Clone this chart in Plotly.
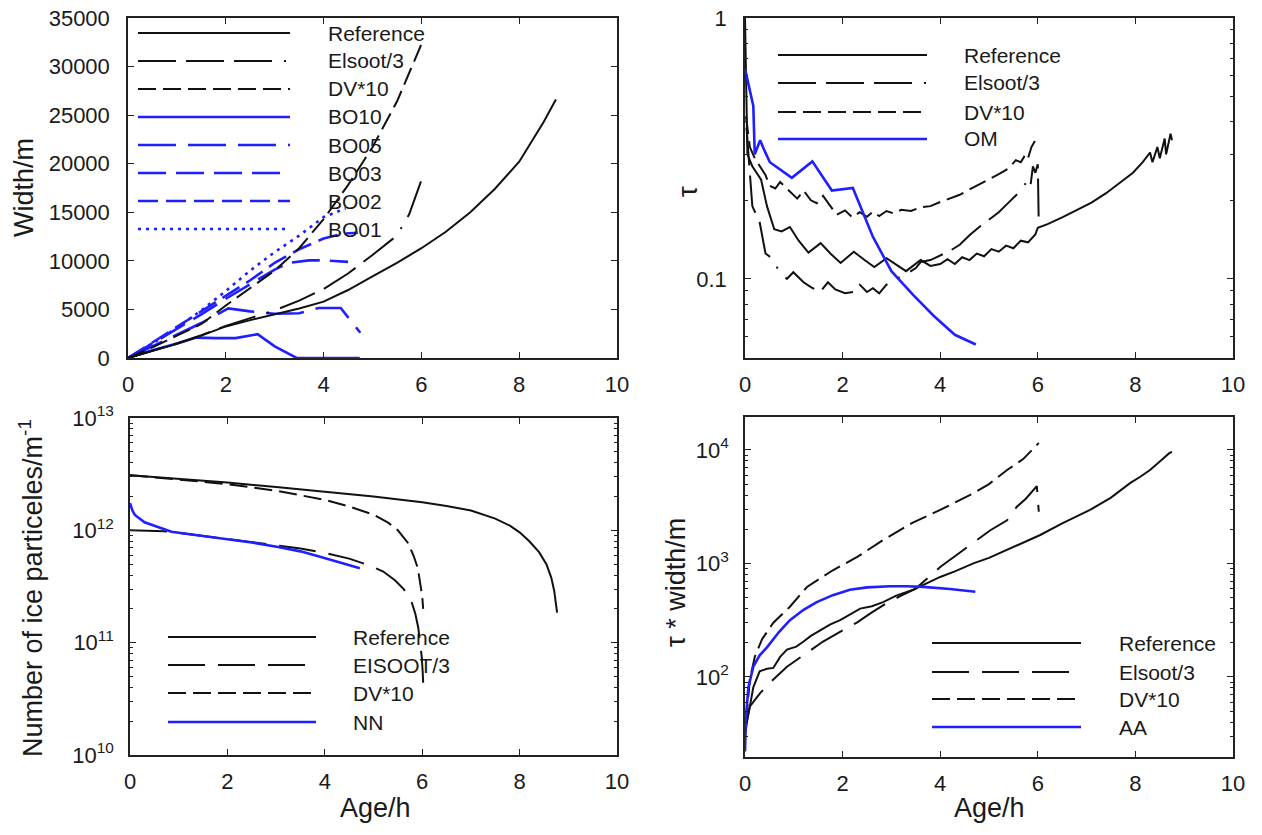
import math
import plotly.graph_objects as go

PAGE_W, PAGE_H = 1262, 835
OFF = 8  # browser body margin
W, H = PAGE_W - OFF, PAGE_H - OFF
BLACK = "#111111"
BLUE = "#1f1fff"
FONT = "Liberation Sans, Arial, sans-serif"

# ---------------- Panel A: Width/m vs Age/h ----------------
a_ref_age = [0, 0.5, 1, 1.5, 2, 2.5, 3, 3.5, 4, 4.5, 5, 5.5, 6, 6.5, 7, 7.5, 8, 8.5, 8.75]
a_ref_val = [0, 700, 1450, 2300, 3250, 3900, 4500, 5100, 5800, 7000, 8400, 9800, 11300, 13000, 15000, 17400, 20200, 24300, 26600]
a_els_age = [0, 0.5, 1, 1.5, 2, 2.5, 3, 3.5, 4, 4.5, 5, 5.5, 5.75, 6.0]
a_els_val = [0, 750, 1500, 2350, 3300, 4100, 4900, 5900, 7100, 8700, 10600, 12600, 14800, 18300]
a_dv_age = [0, 0.5, 1, 1.5, 2, 2.5, 3, 3.5, 4, 4.5, 5, 5.5, 6.0]
a_dv_val = [0, 1100, 2300, 3500, 5400, 7200, 9000, 11300, 14300, 17800, 21700, 26400, 32300]
a_bo10_age = [0, 0.5, 1, 1.4, 1.8, 2.2, 2.65, 3.0, 3.45, 4.0, 4.74]
a_bo10_val = [0, 800, 1500, 2100, 2050, 2050, 2450, 1200, 0, 0, 0]
a_bo05_age = [0, 0.5, 1, 1.5, 2.05, 2.5, 3.0, 3.5, 3.9, 4.35, 4.75]
a_bo05_val = [0, 1200, 2400, 3600, 5100, 4800, 4550, 4600, 5150, 5150, 2600]
a_bo03_age = [0, 0.5, 1, 1.5, 2, 2.5, 3, 3.3, 3.7, 4.0, 4.5]
a_bo03_val = [0, 1500, 3000, 4500, 6100, 7600, 9100, 9800, 10050, 10050, 9900]
a_bo02_age = [0, 0.5, 1, 1.5, 2, 2.5, 3, 3.5, 4, 4.4, 4.7]
a_bo02_val = [0, 1600, 3200, 4800, 6400, 8000, 9800, 11200, 12300, 12800, 12900]
a_bo01_age = [0, 0.5, 1, 1.5, 2, 2.5, 3, 3.5, 4, 4.45]
a_bo01_val = [0, 1500, 3100, 4900, 6900, 9000, 10900, 12600, 14500, 15400]

# ---------------- Panel B: tau vs Age/h ----------------
b_ref_age = [0, 0.02, 0.05, 0.15, 0.33, 0.45, 0.6, 0.75, 0.92, 1.1, 1.3, 1.55, 1.75, 1.96, 2.23, 2.45, 2.65,
             2.9, 3.1, 3.3, 3.6, 3.8, 4.0, 4.15, 4.3, 4.45, 4.6, 4.75, 4.9, 5.05, 5.2, 5.35, 5.5, 5.65, 5.8,
             5.95, 6.0, 6.2, 6.5, 6.8, 7.1, 7.4, 7.7, 7.95, 8.15, 8.3, 8.35, 8.45, 8.5, 8.6, 8.63, 8.72, 8.75]
b_ref_val = [1.0, 0.55, 0.30, 0.27, 0.24, 0.19, 0.155, 0.152, 0.158, 0.14, 0.126, 0.137, 0.125, 0.115, 0.127,
             0.118, 0.111, 0.12, 0.113, 0.107, 0.118, 0.112, 0.114, 0.119, 0.114, 0.121, 0.118, 0.125, 0.122,
             0.13, 0.127, 0.134, 0.131, 0.14, 0.138, 0.148, 0.157, 0.162, 0.172, 0.183, 0.196, 0.213, 0.234,
             0.255, 0.28, 0.305, 0.28, 0.32, 0.29, 0.345, 0.30, 0.36, 0.34]
b_els_age = [0.03, 0.08, 0.15, 0.3, 0.42, 0.55, 0.7, 0.86, 0.99, 1.2, 1.35, 1.54, 1.7, 1.85, 2.05, 2.22, 2.35,
             2.5, 2.62, 2.75, 2.9, 3.1, 3.3, 3.5, 3.6, 3.8, 4.0, 4.2, 4.4, 4.6, 4.8, 5.0, 5.2, 5.4, 5.6, 5.7,
             5.8, 5.85, 5.9, 5.95, 6.0, 6.02]
b_els_val = [0.38, 0.28, 0.19, 0.165, 0.125, 0.12, 0.107, 0.1, 0.106, 0.097, 0.093, 0.089, 0.097, 0.091,
             0.088, 0.089, 0.095, 0.089, 0.092, 0.088, 0.095, 0.1, 0.104, 0.11, 0.116, 0.118, 0.123, 0.128,
             0.135, 0.147, 0.158, 0.168, 0.18, 0.196, 0.213, 0.225, 0.24, 0.228, 0.27, 0.255, 0.275, 0.16]
b_dv_age = [0.02, 0.1, 0.2, 0.3, 0.42, 0.5, 0.62, 0.72, 0.85, 1.07, 1.2, 1.35, 1.47, 1.6, 1.75, 1.88, 2.05,
            2.2, 2.35, 2.5, 2.62, 2.75, 2.9, 3.05, 3.2, 3.4, 3.6, 3.8, 4.0, 4.2, 4.4, 4.6, 4.8, 5.0, 5.2, 5.4,
            5.55, 5.65, 5.75, 5.8, 5.87, 5.95, 6.02]
b_dv_val = [0.42, 0.32, 0.29, 0.27, 0.25, 0.228, 0.222, 0.235, 0.222, 0.203, 0.218, 0.2, 0.195, 0.208, 0.19,
            0.176, 0.183, 0.172, 0.18, 0.173, 0.181, 0.174, 0.182, 0.178, 0.184, 0.182, 0.188, 0.19, 0.197,
            0.203, 0.21, 0.22, 0.23, 0.24, 0.252, 0.265, 0.285, 0.28, 0.3, 0.29, 0.32, 0.34, 0.355]
b_om_age = [0, 0.17, 0.2, 0.31, 0.4, 0.51, 0.96, 1.38, 1.78, 2.21, 2.62, 3.0, 3.44, 3.87, 4.3, 4.73]
b_om_val = [0.64, 0.46, 0.30, 0.34, 0.31, 0.28, 0.244, 0.282, 0.218, 0.223, 0.145, 0.107, 0.087, 0.072, 0.061, 0.056]

# ---------------- Panel C: number of ice particles ----------------
c_ref_age = [0, 1, 2, 3, 4, 5, 6, 6.5, 7, 7.5, 7.8, 8.0, 8.2, 8.4, 8.55, 8.65, 8.71, 8.75, 8.77]
c_ref_val = [3.1e12, 2.88e12, 2.66e12, 2.43e12, 2.2e12, 2.0e12, 1.78e12, 1.65e12, 1.5e12, 1.27e12, 1.1e12,
             9.6e11, 8.0e11, 6.4e11, 5.0e11, 3.8e11, 2.9e11, 2.2e11, 1.85e11]
c_els_age = [0, 0.7, 1, 2, 3, 3.5, 4, 4.5, 4.9, 5.2, 5.44, 5.62, 5.77, 5.86, 5.92, 5.96, 5.99, 6.01, 6.02]
c_els_val = [1.0e12, 9.8e11, 9.5e11, 8.4e11, 7.4e11, 6.9e11, 6.3e11, 5.6e11, 4.9e11, 4.3e11, 3.6e11, 3.0e11,
             2.4e11, 1.8e11, 1.35e11, 1.0e11, 7.5e10, 5.5e10, 4.4e10]
c_dv_age = [0, 1, 2, 3, 3.5, 4, 4.5, 5, 5.3, 5.5, 5.7, 5.82, 5.91, 5.96, 6.0, 6.02]
c_dv_val = [3.1e12, 2.85e12, 2.58e12, 2.25e12, 2.05e12, 1.87e12, 1.63e12, 1.38e12, 1.17e12, 1.0e12, 7.8e11,
            6.0e11, 4.6e11, 3.5e11, 2.6e11, 2.0e11]
c_nn_age = [0, 0.05, 0.1, 0.3, 0.5, 0.85, 1.5, 2, 2.5, 3.04, 3.5, 3.92, 4.3, 4.72]
c_nn_val = [1.75e12, 1.5e12, 1.37e12, 1.18e12, 1.1e12, 9.7e11, 8.9e11, 8.3e11, 7.8e11, 7.1e11, 6.5e11,
            5.8e11, 5.2e11, 4.6e11]

# ---------------- Panel D: tau * width ----------------
d_ref_age = [0.0, 0.04, 0.1, 0.17, 0.3, 0.45, 0.58, 0.72, 0.86, 1.05, 1.2, 1.35, 1.54, 1.75, 1.95, 2.15, 2.36,
             2.6, 2.83, 3.1, 3.45, 3.7, 4.0, 4.3, 4.68, 5.0, 5.37, 5.7, 6.05, 6.5, 7.07, 7.5, 7.89, 8.1, 8.3,
             8.5, 8.7, 8.75]
d_ref_val = [30, 40, 55, 81, 112, 118, 120, 150, 174, 185, 205, 230, 257, 290, 316, 355, 400, 420, 456, 520,
             587, 660, 760, 850, 1000, 1120, 1320, 1530, 1780, 2250, 2960, 3800, 5100, 5800, 6650, 7900, 9400,
             9600]
d_els_age = [0.03, 0.1, 0.31, 0.51, 0.86, 1.1, 1.33, 1.6, 2.0, 2.3, 2.6, 2.9, 3.2, 3.5, 4.0, 4.3, 4.68, 5.02,
             5.37, 5.57, 5.75, 5.9, 5.98, 6.02]
d_els_val = [40, 55, 72, 89, 123, 145, 170, 205, 257, 303, 370, 447, 520, 600, 930, 1150, 1510, 1950, 2400,
             3160, 3700, 4400, 4800, 2850]
d_dv_age = [0.02, 0.1, 0.2, 0.35, 0.58, 0.92, 1.27, 1.5, 1.8, 2.3, 2.83, 3.45, 4.0, 4.68, 5.0, 5.37, 5.7, 6.02]
d_dv_val = [40, 95, 150, 215, 300, 415, 620, 720, 870, 1140, 1610, 2300, 2960, 4150, 5000, 6650, 8300, 11500]
d_aa_age = [0, 0.02, 0.07, 0.17, 0.3, 0.45, 0.7, 0.92, 1.2, 1.47, 1.8, 2.15, 2.5, 2.97, 3.3, 3.65, 4.2, 4.72]
d_aa_val = [22, 45, 81, 123, 155, 182, 250, 316, 390, 456, 525, 587, 615, 630, 630, 622, 595, 563]

# ---------------- styles ----------------
DASH_ELS_DOT = "38px,10px,38px,10px,38px,12px,2px,12px"
DASH_ELS = "37px,13px"
DASH_DV = "18px,7px"
DASH_BO05 = "38px,12px"
DASH_BO03 = "28px,10px"
DASH_BO02 = "20px,8px"
DASH_BO01 = "3px,5px"
LW_K = 2.0
LW_B = 2.6

fig = go.Figure()


def add(x, y, color, dash, width, xa, ya):
    fig.add_trace(go.Scatter(x=x, y=y, mode="lines", showlegend=False, hoverinfo="skip",
                             line=dict(color=color, dash=dash, width=width), xaxis=xa, yaxis=ya))


# Panel A
add(a_bo01_age, a_bo01_val, BLUE, DASH_BO01, LW_B, "x", "y")
add(a_bo02_age, a_bo02_val, BLUE, DASH_BO02, LW_B, "x", "y")
add(a_bo03_age, a_bo03_val, BLUE, DASH_BO03, LW_B, "x", "y")
add(a_bo05_age, a_bo05_val, BLUE, DASH_BO05, LW_B, "x", "y")
add(a_bo10_age, a_bo10_val, BLUE, "solid", LW_B, "x", "y")
add(a_ref_age, a_ref_val, BLACK, "solid", LW_K, "x", "y")
add(a_els_age, a_els_val, BLACK, DASH_ELS_DOT, LW_K, "x", "y")
add(a_dv_age, a_dv_val, BLACK, DASH_DV, LW_K, "x", "y")
# Panel B
add(b_ref_age, b_ref_val, BLACK, "solid", LW_K, "x2", "y2")
add(b_els_age, b_els_val, BLACK, DASH_ELS_DOT, LW_K, "x2", "y2")
add(b_dv_age, b_dv_val, BLACK, DASH_DV, LW_K, "x2", "y2")
add(b_om_age, b_om_val, BLUE, "solid", LW_B, "x2", "y2")
# Panel C
add(c_ref_age, c_ref_val, BLACK, "solid", LW_K, "x3", "y3")
add(c_els_age, c_els_val, BLACK, DASH_ELS, LW_K, "x3", "y3")
add(c_dv_age, c_dv_val, BLACK, DASH_DV, LW_K, "x3", "y3")
add(c_nn_age, c_nn_val, BLUE, "solid", LW_B, "x3", "y3")
# Panel D
add(d_ref_age, d_ref_val, BLACK, "solid", LW_K, "x4", "y4")
add(d_els_age, d_els_val, BLACK, DASH_ELS, LW_K, "x4", "y4")
add(d_dv_age, d_dv_val, BLACK, DASH_DV, LW_K, "x4", "y4")
add(d_aa_age, d_aa_val, BLUE, "solid", LW_B, "x4", "y4")


def px_x(v):
    return (v - OFF) / W


def px_y(v):
    return 1 - (v - OFF) / H


TICKFONT = dict(family=FONT, size=22, color="#1a1a1a")
axis_common = dict(showline=True, linecolor="#222222", linewidth=1.5, mirror="ticks", ticks="inside",
                   ticklen=6, tickwidth=1.2, tickcolor="#222222", showgrid=False, zeroline=False,
                   tickfont=TICKFONT, automargin=False, ticklabeloverflow="allow")


def minor_vals(lo_dec, hi_dec):
    vals = []
    for d in range(lo_dec, hi_dec + 1):
        for k in range(2, 10):
            vals.append(k * 10 ** d)
    return vals


x_common = dict(axis_common, range=[0, 10], tickvals=[0, 2, 4, 6, 8, 10], ticklabelstandoff=6)

fig.update_layout(
    width=W, height=H, margin=dict(l=0, r=0, t=0, b=0, autoexpand=False),
    paper_bgcolor="white", plot_bgcolor="white", showlegend=False,
    xaxis=dict(x_common, domain=[px_x(128), px_x(617)], anchor="y"),
    yaxis=dict(axis_common, domain=[px_y(358), px_y(18)], anchor="x", range=[0, 35000],
               tickvals=[0, 5000, 10000, 15000, 20000, 25000, 30000, 35000], tickformat="d",
               ticklabelstandoff=12),
    xaxis2=dict(x_common, domain=[px_x(745), px_x(1233)], anchor="y2"),
    yaxis2=dict(axis_common, domain=[px_y(358), px_y(18)], anchor="x2", type="log",
                range=[math.log10(0.0497), 0.0001], tickvals=[0.1, 1], ticktext=["0.1", "1"],
                ticklabelstandoff=12,
                minor=dict(tickvals=[v for v in minor_vals(-2, -1) if 0.05 <= v < 1], ticks="inside",
                           ticklen=3, tickcolor="#222222")),
    xaxis3=dict(x_common, domain=[px_x(130), px_x(617)], anchor="y3"),
    yaxis3=dict(axis_common, domain=[px_y(755), px_y(418)], anchor="x3", type="log", range=[10, 13],
                tickvals=[1e10, 1e11, 1e12, 1e13],
                ticktext=["10<sup>10</sup>", "10<sup>11</sup>", "10<sup>12</sup>", "10<sup>13</sup>"],
                ticklabelstandoff=10,
                minor=dict(tickvals=minor_vals(10, 12), ticks="inside", ticklen=3, tickcolor="#222222")),
    xaxis4=dict(x_common, domain=[px_x(745), px_x(1233)], anchor="y4"),
    yaxis4=dict(axis_common, domain=[px_y(757), px_y(417)], anchor="x4", type="log",
                range=[math.log10(19.7), math.log10(19500)], tickvals=[100, 1000, 10000],
                ticktext=["10<sup>2</sup>", "10<sup>3</sup>", "10<sup>4</sup>"], ticklabelstandoff=10,
                minor=dict(tickvals=[v for v in minor_vals(1, 4) if 19.7 <= v <= 19500], ticks="inside",
                           ticklen=3, tickcolor="#222222")),
)

# ---------------- hand-drawn legends (line samples + labels) ----------------
LEG_FONT = dict(family=FONT, size=21, color="#1a1a1a")
shapes = []
annotations = []


def legend(x0, x1, xt, rows):
    for (y, label, color, dash, width) in rows:
        shapes.append(dict(type="line", xref="paper", yref="paper", x0=px_x(x0), x1=px_x(x1),
                           y0=px_y(y), y1=px_y(y), line=dict(color=color, dash=dash, width=width)))
        annotations.append(dict(text=label, xref="paper", yref="paper", x=px_x(xt), y=px_y(y),
                                xanchor="left", yanchor="middle", showarrow=False, font=LEG_FONT))


legend(138, 290, 326, [
    (33, "Reference", BLACK, "solid", LW_K),
    (61, "Elsoot/3", BLACK, DASH_ELS_DOT, LW_K),
    (89, "DV*10", BLACK, DASH_DV, LW_K),
    (117, "BO10", BLUE, "solid", LW_B),
    (145, "BO05", BLUE, DASH_BO05, LW_B),
    (173, "BO03", BLUE, DASH_BO03, LW_B),
    (201, "BO02", BLUE, DASH_BO02, LW_B),
    (229, "BO01", BLUE, DASH_BO01, LW_B),
])
legend(778, 927, 962, [
    (55, "Reference", BLACK, "solid", LW_K),
    (83, "Elsoot/3", BLACK, DASH_ELS_DOT, LW_K),
    (112, "DV*10", BLACK, DASH_DV, LW_K),
    (139, "OM", BLUE, "solid", LW_B),
])
legend(168, 316, 351, [
    (637, "Reference", BLACK, "solid", LW_K),
    (665, "EISOOT/3", BLACK, DASH_ELS, LW_K),
    (693, "DV*10", BLACK, DASH_DV, LW_K),
    (722, "NN", BLUE, "solid", LW_B),
])
legend(932, 1081, 1117, [
    (643, "Reference", BLACK, "solid", LW_K),
    (672, "Elsoot/3", BLACK, DASH_ELS, LW_K),
    (699, "DV*10", BLACK, DASH_DV, LW_K),
    (727, "AA", BLUE, "solid", LW_B),
])

# ---------------- axis titles ----------------
TITLE_FONT = dict(family=FONT, size=27, color="#1a1a1a")


def title(text, x, y, angle=0):
    annotations.append(dict(text=text, xref="paper", yref="paper", x=px_x(x), y=px_y(y), xanchor="center",
                            yanchor="middle", showarrow=False, textangle=angle, font=TITLE_FONT))


title("Width/m", 24, 188, -90)
title("τ", 688, 192, -90)
title("Number of ice particeles/m<sup>-1</sup>", 31, 588, -90)
title("τ * width/m", 676, 583, -90)
title("Age/h", 375, 808)
title("Age/h", 989, 808)

fig.update_layout(shapes=shapes, annotations=annotations)
fig.write_html("out.html")
